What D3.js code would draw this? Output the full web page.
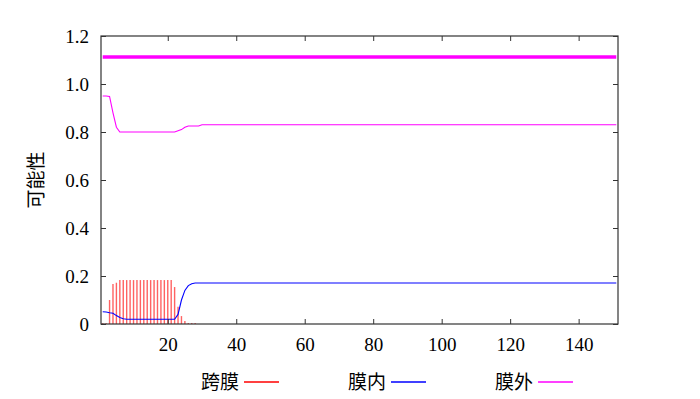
<!DOCTYPE html>
<html lang="zh">
<head>
<meta charset="UTF-8">
<title>可能性</title>
<script src="https://d3js.org/d3.v7.min.js"></script>
<style>
  body { margin: 0; background: #fff; }
</style>
</head>
<body>
<svg id="chart" width="700" height="399"></svg>
<script>
// ---- data ----
const xTicks = [20, 40, 60, 80, 100, 120, 140];
const yTicks = [0, 0.2, 0.4, 0.6, 0.8, 1.0, 1.2];
const yTickLabels = ["0", "0.2", "0.4", "0.6", "0.8", "1.0", "1.2"];

// 跨膜 (red impulses)
const tmX = [1, 2, 3, 4, 5, 6, 7, 8, 9, 10, 11, 12, 13, 14, 15, 16, 17, 18, 19, 20, 21, 22, 23, 24, 25, 26, 27, 28];
const tmY = [0.003, 0.003, 0.1, 0.167, 0.172, 0.183, 0.183, 0.183, 0.183, 0.183, 0.183, 0.183, 0.183, 0.183,
             0.183, 0.183, 0.183, 0.183, 0.183, 0.183, 0.183, 0.154, 0.072, 0.033, 0.012, 0.004, 0.004, 0.004];

// 膜内 (blue)
const inX = [1, 2, 3, 4, 5, 6, 7, 8, 22, 23, 24, 25, 26, 27, 28, 151];
const inY = [0.051, 0.05, 0.047, 0.045, 0.035, 0.027, 0.022, 0.02, 0.02, 0.04, 0.1, 0.14, 0.16, 0.168, 0.171, 0.171];

// 膜外 (magenta)
const outX = [1, 2, 3, 4, 5, 6, 7, 22, 23, 24, 25, 26, 29, 30, 151];
const outY = [0.95, 0.95, 0.948, 0.88, 0.82, 0.80, 0.80, 0.80, 0.805, 0.81, 0.82, 0.825, 0.825, 0.83, 0.83];

// thick magenta band near the top
const topX = [1, 151];
const topY = [1.113, 1.113];

const legendNames = ["跨膜", "膜内", "膜外"];
const legendColors = ["#ff0000", "#0000ff", "#ff00ff"];

// ---- layout ----
const svg = d3.select("#chart");
const mLeft = 101, mRight = 618, mTop = 36, mBottom = 324;
const serif = "'Liberation Serif', 'DejaVu Serif'";
const cjk = "'Noto Sans CJK SC', sans-serif";

const x = d3.scaleLinear().domain([0.5, 151.5]).range([mLeft, mRight]);
const y = d3.scaleLinear().domain([0, 1.2]).range([mBottom, mTop]);

// impulses
svg.append("g")
  .selectAll("line")
  .data(tmX.map((d, i) => [d, tmY[i]]))
  .enter().append("line")
  .attr("x1", d => x(d[0])).attr("x2", d => x(d[0]))
  .attr("y1", y(0)).attr("y2", d => y(d[1]))
  .attr("stroke", "#ff2020")
  .attr("stroke-opacity", 0.7)
  .attr("stroke-width", 1.4);

const line = d3.line().x(d => x(d[0])).y(d => y(d[1]));

svg.append("path")
  .datum(topX.map((d, i) => [d, topY[i]]))
  .attr("d", line).attr("fill", "none")
  .attr("stroke", "#ff00ff").attr("stroke-width", 3.5);

svg.append("path")
  .datum(outX.map((d, i) => [d, outY[i]]))
  .attr("d", line).attr("fill", "none")
  .attr("stroke", "#ff00ff").attr("stroke-width", 1.1);

svg.append("path")
  .datum(inX.map((d, i) => [d, inY[i]]))
  .attr("d", line).attr("fill", "none")
  .attr("stroke", "#0000ff").attr("stroke-width", 1.1);

// frame
svg.append("rect")
  .attr("x", mLeft).attr("y", mTop)
  .attr("width", mRight - mLeft).attr("height", mBottom - mTop)
  .attr("fill", "none").attr("stroke", "#333").attr("stroke-width", 1.2);

// axes with inward ticks
const tickLen = 5;
function styleAxis(g) {
  g.select(".domain").remove();
  g.selectAll("line").attr("stroke", "#333");
  g.attr("font-family", serif).attr("font-size", 19);
  g.selectAll("text").attr("fill", "#000");
}

svg.append("g").attr("transform", `translate(0,${mBottom})`)
  .call(d3.axisBottom(x).tickValues(xTicks).tickSize(-tickLen).tickPadding(14))
  .call(styleAxis);

svg.append("g").attr("transform", `translate(0,${mTop})`)
  .call(d3.axisTop(x).tickValues(xTicks).tickSize(-tickLen).tickFormat(""))
  .call(styleAxis);

svg.append("g").attr("transform", `translate(${mLeft},0)`)
  .call(d3.axisLeft(y).tickValues(yTicks).tickSize(-tickLen).tickPadding(12)
    .tickFormat((d, i) => yTickLabels[i]))
  .call(styleAxis);

svg.append("g").attr("transform", `translate(${mRight},0)`)
  .call(d3.axisRight(y).tickValues(yTicks).tickSize(-tickLen).tickFormat(""))
  .call(styleAxis);

// y label
svg.append("text")
  .attr("font-family", cjk).attr("font-size", 19)
  .attr("fill", "#000")
  .attr("transform", `translate(43,${(mTop + mBottom) / 2}) rotate(-90)`)
  .attr("text-anchor", "middle")
  .text("可能性");

// legend
const legendX = [201, 348, 495];
const lg = svg.append("g");
legendNames.forEach((name, i) => {
  lg.append("text")
    .attr("font-family", cjk).attr("font-size", 19)
    .attr("fill", "#000")
    .attr("x", legendX[i]).attr("y", 389)
    .text(name);
  lg.append("line")
    .attr("x1", legendX[i] + 43).attr("x2", legendX[i] + 78)
    .attr("y1", 382).attr("y2", 382)
    .attr("stroke", legendColors[i]).attr("stroke-width", 1.3);
});
</script>
</body>
</html>
